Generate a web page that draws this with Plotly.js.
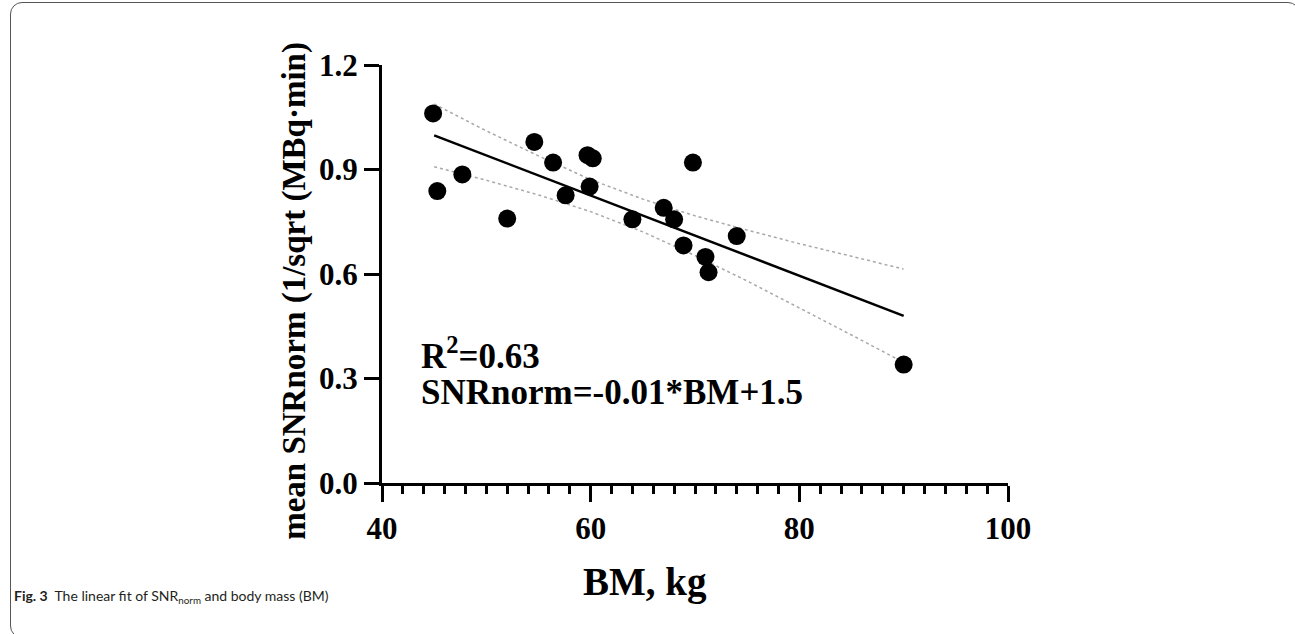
<!DOCTYPE html>
<html>
<head>
<meta charset="utf-8">
<script src="https://cdn.plot.ly/plotly-3.0.1.min.js"></script>
<style>
html,body{margin:0;padding:0;background:#fff;overflow:hidden;}
#frame{position:absolute;left:10px;top:2px;width:1290px;height:636px;border:1px solid #555;border-radius:12px;box-sizing:border-box;pointer-events:none;}
#chart{position:absolute;left:0;top:0;width:1295px;height:634px;}
</style>
</head>
<body>
<div id="chart"></div>
<div id="frame"></div>
<script>
// Scatter data: body mass (kg) and mean SNRnorm
const bodyMass = [44.9, 45.3, 47.7, 52.0, 54.6, 56.4, 57.6, 59.7, 60.2, 59.9, 64.0, 67.0, 68.0, 68.9, 69.8, 71.0, 71.3, 74.0, 90.0];
const snrNorm  = [1.061, 0.838, 0.886, 0.759, 0.979, 0.920, 0.826, 0.941, 0.932, 0.851, 0.757, 0.790, 0.757, 0.682, 0.920, 0.649, 0.605, 0.709, 0.340];

// Linear fit line
const fitX = [45, 90];
const fitY = [0.998, 0.480];

// 95% confidence band
const bandX     = [45, 50, 55, 60, 65, 70, 75, 80, 85, 90];
const bandUpper = [1.088, 1.011, 0.939, 0.871, 0.815, 0.767, 0.726, 0.687, 0.651, 0.614];
const bandLower = [0.908, 0.869, 0.827, 0.779, 0.721, 0.653, 0.580, 0.503, 0.425, 0.346];

// Axis ticks
const xTicks = [40, 60, 80, 100];
const yTicks = [0, 0.3, 0.6, 0.9, 1.2];
const yTickLabels = ['0.0', '0.3', '0.6', '0.9', '1.2'];

// Texts
const xTitle = 'BM, kg';
const yTitle = 'mean SNRnorm (1/sqrt (MBq·min)';
const statLines = ['R<sup>2</sup>=0.63', 'SNRnorm=-0.01*BM+1.5'];
const caption = '<b>Fig. 3</b>  The linear fit of SNR<sub>norm</sub> and body mass (BM)';

const serif = 'Liberation Serif, Times New Roman, serif';

const traces = [
  {x: bandX, y: bandUpper, mode: 'lines', line: {color: '#a8a8a8', width: 1.5, dash: 'dot'}, hoverinfo: 'skip', showlegend: false},
  {x: bandX, y: bandLower, mode: 'lines', line: {color: '#a8a8a8', width: 1.5, dash: 'dot'}, hoverinfo: 'skip', showlegend: false},
  {x: fitX, y: fitY, mode: 'lines', line: {color: '#000', width: 2.5}, showlegend: false},
  {x: bodyMass, y: snrNorm, mode: 'markers', marker: {color: '#000', size: 18}, showlegend: false, cliponaxis: false}
];

const layout = {
  width: 1295, height: 634,
  margin: {l: 382, r: 287, t: 65, b: 151, pad: 0},
  paper_bgcolor: 'rgba(0,0,0,0)', plot_bgcolor: 'rgba(0,0,0,0)',
  showlegend: false,
  xaxis: {
    range: [40, 100], tickvals: xTicks, ticktext: xTicks.map(String),
    showline: true, linecolor: '#000', linewidth: 3, mirror: false,
    ticks: 'outside', ticklen: 16, tickwidth: 3, tickcolor: '#000',
    showgrid: false, zeroline: false,
    minor: {dtick: 2, ticks: 'outside', ticklen: 8, tickwidth: 3, tickcolor: '#000', showgrid: false},
    tickfont: {family: serif, size: 31, color: '#000', weight: 'bold'}
  },
  yaxis: {
    range: [0, 1.2], tickvals: yTicks, ticktext: yTickLabels,
    showline: true, linecolor: '#000', linewidth: 3,
    ticks: 'outside', ticklen: 15, tickwidth: 3, tickcolor: '#000',
    showgrid: false, zeroline: false,
    tickfont: {family: serif, size: 31, color: '#000', weight: 'bold'}
  },
  annotations: [
    {xref: 'paper', yref: 'paper', x: (645 - 382) / 626, y: (483.3 - 582) / 418.3, xanchor: 'center', yanchor: 'middle', showarrow: false,
     text: xTitle, font: {family: serif, size: 39, color: '#000', weight: 'bold'}},
    {xref: 'paper', yref: 'paper', x: (295 - 382) / 626, y: (483.3 - 291) / 418.3, xanchor: 'center', yanchor: 'middle', showarrow: false,
     textangle: -90, text: yTitle, font: {family: serif, size: 33, color: '#000', weight: 'bold'}},
    {xref: 'x', yref: 'y', x: 43.5, y: 0.372, xanchor: 'left', yanchor: 'middle', showarrow: false,
     text: statLines[0], font: {family: serif, size: 35, color: '#000', weight: 'bold'}},
    {xref: 'x', yref: 'y', x: 43.5, y: 0.259, xanchor: 'left', yanchor: 'middle', showarrow: false,
     text: statLines[1], font: {family: serif, size: 35, color: '#000', weight: 'bold'}},
    {xref: 'paper', yref: 'paper', x: (12 - 382) / 626, y: (483.3 - 597) / 418.3, xanchor: 'left', yanchor: 'middle', showarrow: false,
     text: caption, font: {family: 'Lato, Noto Sans, sans-serif', size: 14, color: '#231f20'}}
  ]
};

Plotly.newPlot('chart', traces, layout, {displayModeBar: false, staticPlot: true});
</script>
</body>
</html>
